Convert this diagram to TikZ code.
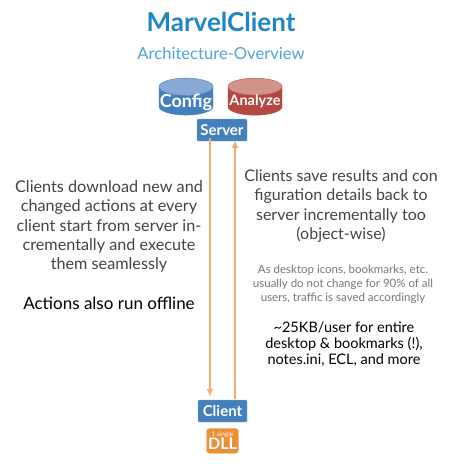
\documentclass[tikz,border=0pt]{standalone}
\usepackage{xcolor}
\usepackage{fontspec}
\setmainfont{Lato}
\usetikzlibrary{arrows.meta,positioning,shapes.geometric}
\definecolor{MarvelBlue}{HTML}{1F86C6}
\definecolor{MarvelSub}{HTML}{4BA6DC}
\definecolor{BoxBlue}{HTML}{4480BC}
\definecolor{BoxTop}{HTML}{88A9D6}
\definecolor{DbRed}{HTML}{B4473F}
\definecolor{DbRedTop}{HTML}{D2938B}
\definecolor{FlowOrange}{HTML}{F2AE72}
\definecolor{DllOrange}{HTML}{E98F35}
\definecolor{BodyGrey}{HTML}{444444}
\definecolor{NoteGrey}{HTML}{777777}

\begin{document}
\begin{tikzpicture}[x=1pt, y=-1pt,
  db/.style={shape=cylinder, shape border rotate=90, aspect=0.33, cylinder uses custom fill,
    draw=#1!80!gray, minimum width=54pt, minimum height=37pt, inner sep=0pt, text=white},
  box/.style={draw=BoxBlue!60, fill=BoxBlue, text=white, minimum height=22pt, inner sep=0pt,
    rounded corners=1pt, font=\fontsize{15}{16}\selectfont\bfseries},
  flow/.style={-{Latex[length=8pt,width=7pt]}, FlowOrange, line width=2pt},
  txt/.style={align=center, inner sep=0pt},
  body/.style={txt, text=BodyGrey, font=\fontsize{16.2}{19.3}\selectfont},
  note/.style={txt, text=NoteGrey, font=\fontsize{11.5}{14}\selectfont},
  strong/.style={txt, text=black, font=\fontsize{14.5}{16}\selectfont}]
  \useasboundingbox (0,0) rectangle (451,464);
  \fill[white] (0,0) rectangle (451,464);
  % header
  \node[txt, text=MarvelBlue, font=\fontsize{26}{28}\selectfont\bfseries] (title) at (221,22) {MarvelClient};
  \node[txt, text=MarvelSub, font=\fontsize{16.6}{18}\selectfont] (subtitle) at (221,53) {Architecture-Overview};
  % server side
  \node[db=BoxBlue, cylinder body fill=BoxBlue, cylinder end fill=BoxTop,
    font=\fontsize{18}{20}\selectfont\bfseries] (config) at (186,101) {\raisebox{-6.5pt}[0pt][0pt]{Config}};
  \node[db=DbRed, cylinder body fill=DbRed, cylinder end fill=DbRedTop,
    font=\fontsize{14.5}{16}\selectfont\bfseries] (analyze) at (255,101) {\raisebox{-4pt}[0pt][0pt]{Analyze}};
  \node[box, minimum width=50pt] (server) at (222,130) {Server};
  % client side
  \node[box, minimum width=49pt] (client) at (222.5,411) {Client};
  \node[fill=DllOrange, draw=DllOrange!60, text=white, rounded corners=3pt, minimum width=32pt,
    minimum height=25pt, inner sep=0pt, align=center, below=6pt of client]
    (dll) {\fontsize{6.5}{7}\selectfont 1 single\\[-1pt]\fontsize{16}{14}\selectfont\bfseries DLL};
  % flows
  \draw[flow] ([xshift=-12pt,yshift=3pt]server.south) -- ([xshift=-12.5pt,yshift=3pt]client.north);
  \draw[flow] ([xshift=12.5pt,yshift=1pt]client.north) -- ([xshift=13pt,yshift=1pt]server.south);
  % texts
  \node[body] (download) at (109,226.5) {Clients download new and\\changed actions at every\\client start from server in-\\crementally and execute\\them seamlessly};
  \node[txt, text=black, font=\fontsize{17}{19}\selectfont] (offline) at (109,303) {Actions also run offline};
  \node[body, font=\fontsize{16}{19.2}\selectfont] (save) at (341,206) {Clients save results and con\\figuration details back to\\server incrementally too\\(object-wise)};
  \node[note] (icons) at (343,284) {As desktop icons, bookmarks, etc.\\usually do not change for 90\% of all\\users, traffic is saved accordingly};
  \node[strong] (size) at (344,344) {\textasciitilde 25KB/user for entire\\desktop \& bookmarks (!),\\notes.ini, ECL, and more};
\end{tikzpicture}
\end{document}
